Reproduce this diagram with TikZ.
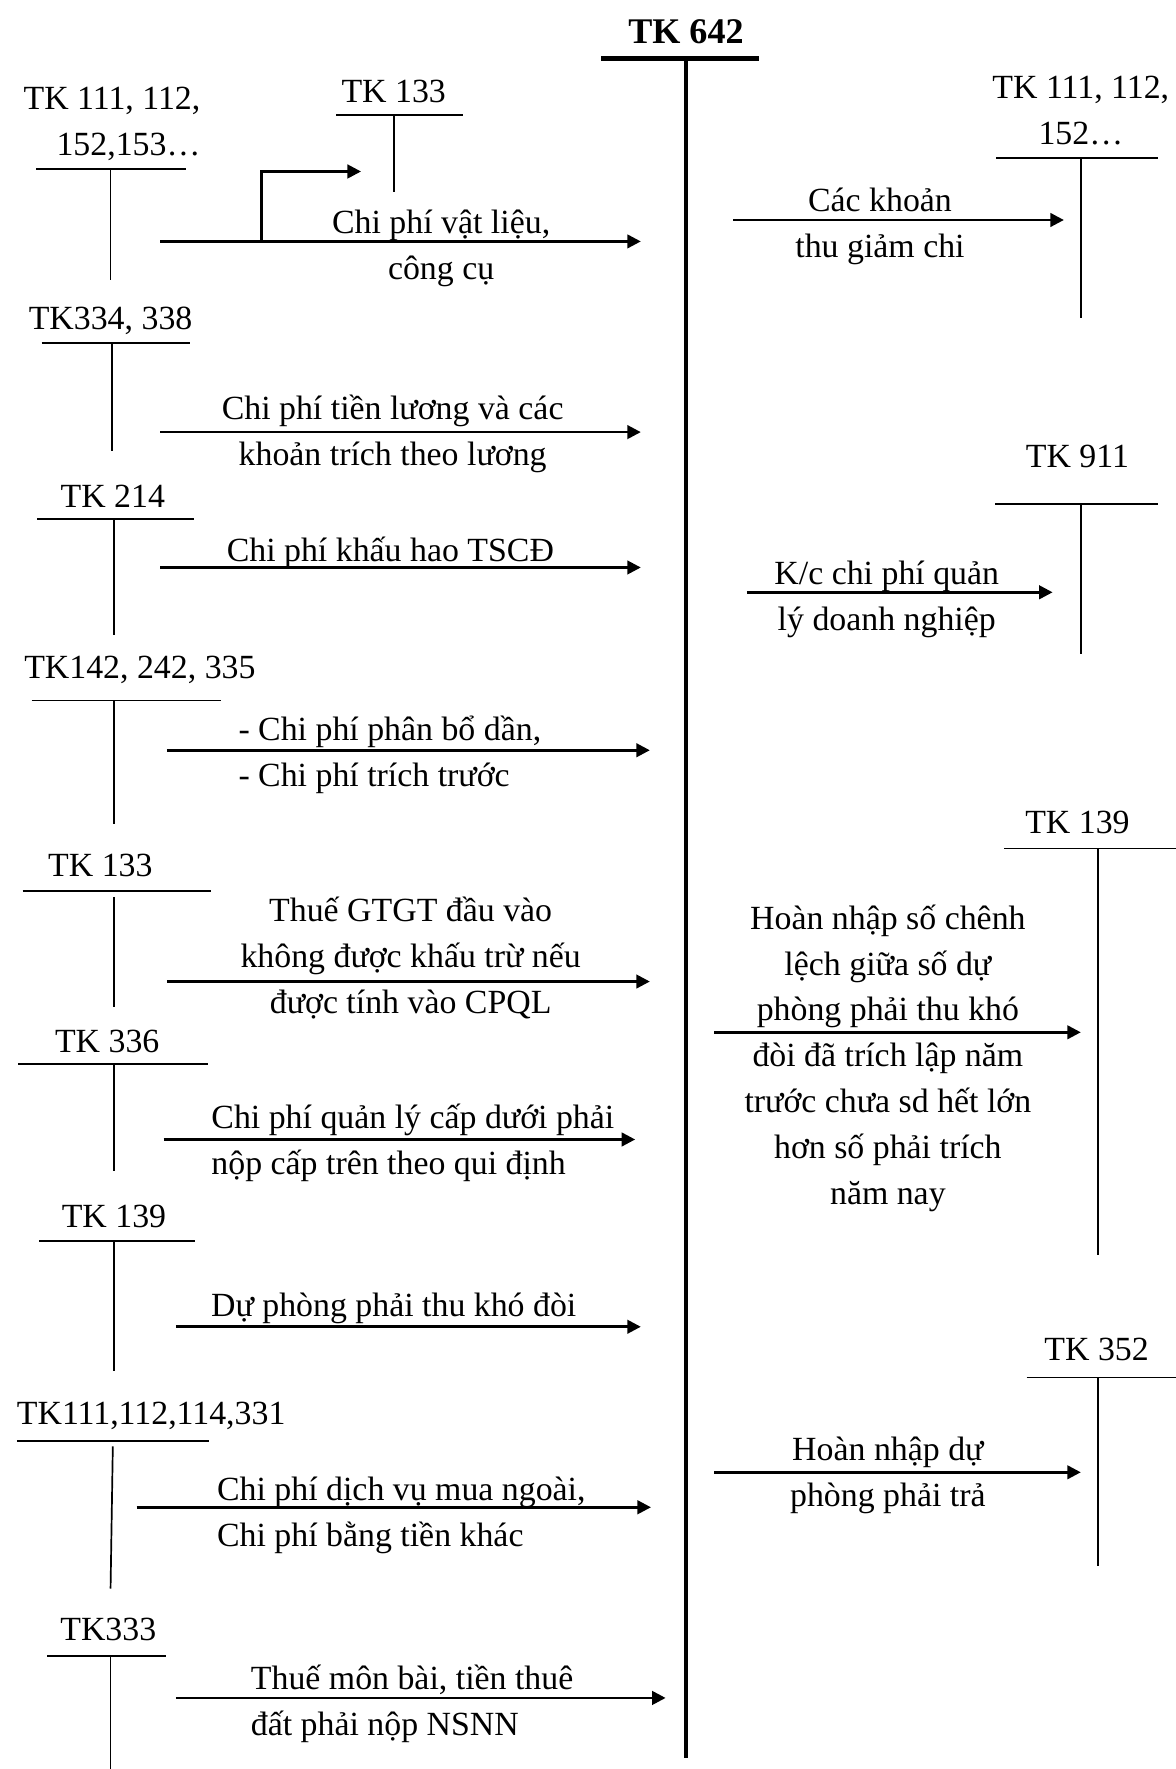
\documentclass[tikz,border=0pt]{standalone}
\usepackage{fontspec}
\setmainfont{Liberation Serif}
\usetikzlibrary{arrows.meta}
\newcommand{\tkfont}{\fontsize{15}{20.35}\selectfont}
\tikzset{
  acc/.style={font=\tkfont, inner sep=0pt, yshift=-1.5pt},
  lbl/.style={font=\tkfont, align=center, inner sep=0pt, yshift=-1.5pt},
  tline/.style={line width=0.75pt},
  flow/.style={line width=1.2pt, -{Triangle[length=6pt, width=6pt]}}
}
\begin{document}
\begin{tikzpicture}[x=0.5pt, y=-0.5pt]
    \useasboundingbox (0,0) rectangle (1042,1568);
    \node[acc, font=\fontsize{16}{20}\selectfont\bfseries] (tk642) at (608,25) {TK 642};
    \draw[line width=2.1pt] (533,52) -- (673,52);
    \draw[line width=2.1pt] (608,52) -- (608,1558);

    \node[acc, align=right, anchor=east] (tkA) at (178,107) {TK 111, 112,\\152,153…};
    \draw[tline] (32,150) -- (165,150); \draw[tline] (98,150) -- (98,248);
    \node[acc] (tkB) at (349,78) {TK 133};
    \draw[tline] (298,102) -- (410,102); \draw[tline] (349,102) -- (349,170);
    \coordinate (a1) at (142,214); \coordinate (b1) at (568,214);
    \coordinate (br) at (232,214); \coordinate (c1) at (320,152);
    \draw[flow] (a1) -- (b1);
    \draw[flow] (br) |- (c1);
    \node[lbl] (l1) at (391,217) {Chi phí vật liệu,\\công cụ};

    \node[acc] (tkC) at (98,281) {TK334, 338};
    \draw[tline] (37,304) -- (168,304); \draw[tline] (99,304) -- (99,400);
    \coordinate (a2) at (142,383); \coordinate (b2) at (568,383);
    \draw[flow] (a2) -- (b2);
    \node[lbl] (l2) at (348,382) {Chi phí tiền lương và các\\khoản trích theo lương};

    \node[acc] (tkD) at (100,437) {TK 214};
    \draw[tline] (33,460) -- (172,460); \draw[tline] (101,460) -- (101,563);
    \coordinate (a3) at (142,503); \coordinate (b3) at (568,503);
    \draw[flow] (a3) -- (b3);
    \node[lbl] (l3) at (346,487) {Chi phí khấu hao TSCĐ};

    \node[acc] (tkE) at (124,591) {TK142, 242, 335};
    \draw[tline] (28,621) -- (196,621); \draw[tline] (101,621) -- (101,730);
    \coordinate (a4) at (148,665); \coordinate (b4) at (576,665);
    \draw[flow] (a4) -- (b4);
    \node[lbl, align=left, anchor=west] (l4) at (211,666) {- Chi phí phân bổ dần,\\- Chi phí trích trước};

    \node[acc] (tkF) at (89,764) {TK 133};
    \draw[tline] (20,790) -- (187,790); \draw[tline] (101,795) -- (101,893);
    \coordinate (a5) at (148,870); \coordinate (b5) at (576,870);
    \draw[flow] (a5) -- (b5);
    \node[lbl] (l5) at (364,846) {Thuế GTGT đầu vào\\không được khấu trừ nếu\\được tính vào CPQL};

    \node[acc] (tkG) at (95,920) {TK 336};
    \draw[tline] (16,943) -- (184,943); \draw[tline] (101,943) -- (101,1038);
    \coordinate (a6) at (145,1010); \coordinate (b6) at (563,1010);
    \draw[flow] (a6) -- (b6);
    \node[lbl, align=left, anchor=west] (l6) at (187,1010) {Chi phí quản lý cấp dưới phải\\nộp cấp trên theo qui định};

    \node[acc] (tkH) at (101,1075) {TK 139};
    \draw[tline] (35,1100) -- (173,1100); \draw[tline] (101,1100) -- (101,1215);
    \coordinate (a7) at (156,1176); \coordinate (b7) at (568,1176);
    \draw[flow] (a7) -- (b7);
    \node[lbl] (l7) at (349,1157) {Dự phòng phải thu khó đòi};

    \node[acc] (tkI) at (134,1252) {TK111,112,114,331};
    \draw[tline] (15,1277) -- (185,1277); \draw[tline] (100,1282) -- (98,1408);
    \coordinate (a8) at (121,1336); \coordinate (b8) at (577,1336);
    \draw[flow] (a8) -- (b8);
    \node[lbl, align=left, anchor=west] (l8) at (192,1340) {Chi phí dịch vụ mua ngoài,\\Chi phí bằng tiền khác};

    \node[acc] (tkJ) at (96,1441) {TK333};
    \draw[tline] (42,1468) -- (147,1468); \draw[tline] (98,1468) -- (98,1568);
    \coordinate (a9) at (156,1505); \coordinate (b9) at (590,1505);
    \draw[flow] (a9) -- (b9);
    \node[lbl, align=left, anchor=west] (l9) at (222,1507) {Thuế môn bài, tiền thuê\\đất phải nộp NSNN};

    \node[lbl] (tkK) at (958,95) {TK 111, 112,\\152…};
    \draw[tline] (883,140) -- (1026,140); \draw[tline] (958,140) -- (958,282);
    \coordinate (a10) at (650,195); \coordinate (b10) at (943,195);
    \draw[flow] (a10) -- (b10);
    \node[lbl] (l10) at (780,198) {Các khoản\\thu giảm chi};

    \node[acc] (tkL) at (955,402) {TK 911};
    \draw[tline] (882,447) -- (1026,447); \draw[tline] (958,447) -- (958,580);
    \coordinate (a11) at (662,525); \coordinate (b11) at (933,525);
    \draw[flow] (a11) -- (b11);
    \node[lbl] (l11) at (786,528) {K/c chi phí quản\\lý doanh nghiệp};

    \node[acc] (tkM) at (955,726) {TK 139};
    \draw[tline] (890,752) -- (1042,752); \draw[tline] (973,752) -- (973,1112);
    \coordinate (a12) at (633,915); \coordinate (b12) at (958,915);
    \draw[flow] (a12) -- (b12);
    \node[lbl] (l12) at (787,935) {Hoàn nhập số chênh\\lệch giữa số dự\\phòng phải thu khó\\đòi đã trích lập năm\\trước chưa sd hết lớn\\hơn số phải trích\\năm nay};

    \node[acc] (tkN) at (972,1193) {TK 352};
    \draw[tline] (910,1221) -- (1042,1221); \draw[tline] (973,1221) -- (973,1388);
    \coordinate (a13) at (633,1305); \coordinate (b13) at (958,1305);
    \draw[flow] (a13) -- (b13);
    \node[lbl] (l13) at (787,1305) {Hoàn nhập dự\\phòng phải trả};
\end{tikzpicture}
\end{document}
